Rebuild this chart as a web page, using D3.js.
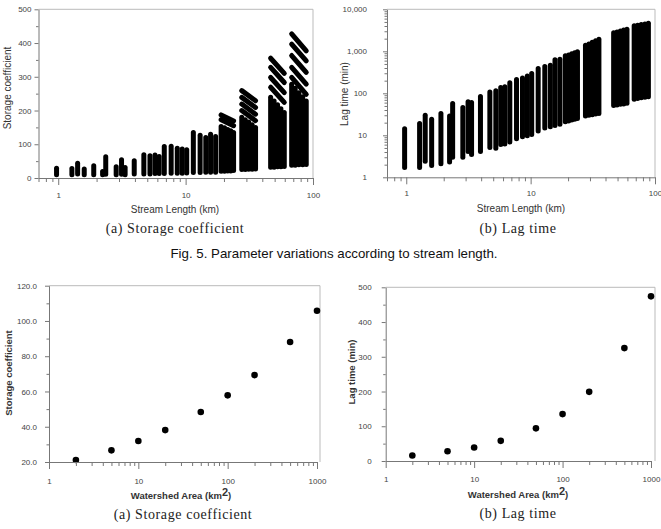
<!DOCTYPE html>
<html lang="en">
<head>
  <meta charset="UTF-8">
  <title>Parameter variations</title>
  <script src="https://d3js.org/d3.v7.min.js"></script>
  <style>
    body { margin: 0; background: #fff; }
    text { font-family: 'Liberation Sans', Arial, sans-serif; fill: #333; }
    .tick text { font-size: 8px; fill: #444; }
    .domain, .tick line { stroke: #777; }
    .frame { stroke: #bbb; fill: none; }
    .sub { font-family: 'Liberation Serif', serif; font-size: 14px; fill: #222; letter-spacing: 0.6px; }
    .ttl { font-size: 10px; }
    .bold { font-weight: bold; font-size: 9.5px; fill: #333; }
  </style>
</head>
<body>
  <svg width="661" height="529"></svg>

  <script>
    const svg = d3.select("svg");

    // Fig. 5 : one column of runs per stream length (dot centres, lowest / highest)
    const streamLength = [0.97, 1.28, 1.42, 1.60, 1.90, 2.23, 2.36, 2.85, 3.14, 3.35, 3.95, 4.70, 5.25,
                          5.75, 6.20, 6.80, 7.70, 8.60, 9.40, 10.2, 11.5, 13.0, 14.4, 15.7, 17.2];
    const storageMin = [10, 10, 12, 10, 10, 10, 11, 10, 11, 10, 12, 12, 12, 13, 13, 13, 14, 14, 14, 15, 16, 16, 17, 17, 17];
    const storageMax = [29, 28, 44, 27, 36, 19, 63, 33, 54, 31, 51, 69, 66, 68, 64, 93, 94, 88, 86, 84, 135, 127, 120, 130, 123];
    const lagMin = [1.7, 1.7, 2.4, 1.9, 2.1, 2.3, 3.0, 3.0, 4.1, 3.5, 4.1, 5.1, 4.9, 6.0, 6.2, 6.9, 8.3, 9.2, 9.8, 10.4, 12.7, 15, 16, 17, 18.4];
    const lagMax = [14.4, 19, 30, 24, 33, 29, 57, 46, 63, 60, 84, 108, 115, 137, 144, 178, 213, 230, 257, 296, 387, 435, 465, 626, 648];

    // the four long streams come as groups of close lengths
    const blockLength = [
      [19.0, 20.2, 21.4, 22.6, 23.8],
      [27.6, 29.4, 31.3, 33.3, 35.4],
      [46.5, 49.5, 52.7, 56.0, 59.5],
      [68.0, 72.5, 77.5, 83.0, 88.5]
    ];
    const storageBlockMin = [[20, 20, 21, 21, 22], [25, 25, 26, 26, 27], [32, 32, 33, 33, 34], [38, 38, 39, 39, 40]];
    const storageBlockTop = [[153, 149, 144, 140, 135], [180, 173, 166, 158, 150], [239, 228, 217, 205, 194], [278, 266, 253, 241, 228]];
    const storageRows = [[187, 173], [259, 239, 219, 200], [355, 328, 298, 269], [427, 397, 363, 328, 298]];
    const storageRowDrop = [18, 30, 45, 50];
    const lagBlockMin = [[21, 22, 23, 24, 25], [29, 30, 31, 32, 33], [51, 53, 55, 56, 58], [72, 75, 78, 80, 83]];
    const lagBlockMax = [[780, 820, 870, 920, 975], [1390, 1500, 1640, 1780, 1930], [2780, 2900, 3050, 3200, 3350], [4040, 4180, 4340, 4490, 4650]];

    // Fig. 6 : watershed area
    const area = [2, 5, 10, 20, 50, 100, 200, 500, 1000];
    const storageByArea = [21.1, 26.6, 31.9, 38.1, 48.4, 57.8, 69.3, 88.1, 105.8];
    const lagByArea = [16, 28, 39, 58, 94, 135, 199, 325, 474];

    const isPow10 = d => Math.abs(Math.log10(d) - Math.round(Math.log10(d))) < 1e-6;

    function frame(x, y, extra) {
      const [x0, x1] = x.range(), [y0, y1] = y.range();
      svg.append("path").attr("class", "frame")
        .attr("d", `M${x0},${y1}H${x1 + extra}V${y0}`);
    }

    function logXAxis(x, y0, pad) {
      const ax = svg.append("g").attr("transform", `translate(0,${y0})`)
        .call(d3.axisBottom(x).tickValues(x.ticks()).tickSize(4).tickSizeOuter(0).tickPadding(pad)
          .tickFormat(d => isPow10(d) ? d3.format("d")(d) : ""));
      ax.selectAll(".tick line").filter(d => isPow10(d)).attr("y2", 7);
      ax.selectAll(".tick").filter(d => !isPow10(d)).select("text").remove();
    }

    function yAxis(y, x0, values, isMajor, fmt, pad) {
      const ax = svg.append("g").attr("transform", `translate(${x0},0)`)
        .call(d3.axisLeft(y).tickValues(values).tickSize(4).tickSizeOuter(0).tickPadding(pad)
          .tickFormat(d => isMajor(d) ? fmt(d) : ""));
      ax.selectAll(".tick line").filter(d => !isMajor(d)).attr("x2", -2.5);
    }

    function columns(g, x, y, xs, lo, hi, r) {
      g.selectAll(null).data(d3.range(xs.length)).join("rect")
        .attr("x", i => x(xs[i]) - r)
        .attr("width", 2 * r)
        .attr("y", i => y(hi[i]) - r)
        .attr("height", i => y(lo[i]) - y(hi[i]) + 2 * r)
        .attr("rx", r)
        .attr("fill", "#000");
    }

    function title(txt, x, y, cls, rot) {
      const t = svg.append("text").attr("class", cls).attr("text-anchor", "middle").attr("dy", "0.35em").text(txt);
      if (rot) t.attr("transform", `translate(${x},${y}) rotate(-90)`);
      else t.attr("x", x).attr("y", y);
      return t;
    }

    // ---------- (a) storage coefficient vs stream length ----------
    const xA = d3.scaleLog().domain([0.7, 100]).range([38.5, 313]);
    const yA = d3.scaleLinear().domain([0, 500]).range([178, 9.3]);
    frame(xA, yA, 0);
    const gA = svg.append("g");
    columns(gA, xA, yA, streamLength, storageMin, storageMax, 2.5);
    blockLength.forEach((bl, b) => {
      columns(gA, xA, yA, bl, storageBlockMin[b], storageBlockTop[b], 2.5);
      gA.selectAll(null).data(storageRows[b]).join("line")
        .attr("x1", xA(bl[0])).attr("x2", xA(bl[bl.length - 1]))
        .attr("y1", v => yA(v)).attr("y2", v => yA(v - storageRowDrop[b]))
        .attr("stroke", "#000").attr("stroke-width", 5).attr("stroke-linecap", "round");
    });
    logXAxis(xA, 178, 10);
    yAxis(yA, 38.5, d3.range(0, 501, 50), d => d % 100 === 0, d3.format("d"), 3);
    title("Storage coefficient", 7, 88, "ttl", true);
    title("Stream Length (km)", 175, 209, "ttl");
    title("(a) Storage coefficient", 175, 228, "sub");

    // ---------- (b) lag time vs stream length ----------
    const xB = d3.scaleLog().domain([0.7, 100]).range([387, 655]);
    const yB = d3.scaleLog().domain([1, 10000]).range([177.3, 9.3]);
    frame(xB, yB, 0);
    const gB = svg.append("g");
    columns(gB, xB, yB, streamLength, lagMin, lagMax, 2.5);
    blockLength.forEach((bl, b) => columns(gB, xB, yB, bl, lagBlockMin[b], lagBlockMax[b], 2.5));
    logXAxis(xB, 177.3, 9);
    yAxis(yB, 387, yB.ticks(), isPow10, d3.format(","), 16);
    title("Lag time (min)", 344, 94, "ttl", true);
    title("Stream Length (km)", 521, 208, "ttl");
    title("(b) Lag time", 518, 228, "sub");

    svg.append("text").attr("x", 334).attr("y", 253).attr("dy", "0.35em").attr("text-anchor", "middle")
      .attr("textLength", 327).attr("lengthAdjust", "spacingAndGlyphs")
      .style("font-size", "13px").style("fill", "#111")
      .text("Fig. 5. Parameter variations according to stream length.");

    // ---------- (a) storage coefficient vs watershed area ----------
    const xC = d3.scaleLog().domain([1, 1000]).range([49, 317]);
    const yC = d3.scaleLinear().domain([20, 120]).range([462, 285.7]);
    frame(xC, yC, 3);
    svg.append("g").selectAll("circle").data(area).join("circle")
      .attr("cx", (d, i) => xC(area[i])).attr("cy", (d, i) => yC(storageByArea[i]))
      .attr("r", 3.3).attr("fill", "#000");
    logXAxis(xC, 462, 12);
    yAxis(yC, 49, d3.range(20, 121, 10), d => d % 20 === 0, d3.format(".1f"), 8);
    title("Storage coefficient", 9, 373, "bold", true);
    const tC = title("Watershed Area (km", 181, 496, "bold");
    tC.append("tspan").attr("dy", "-0.3em").style("font-size", "11px").text("2");
    tC.append("tspan").attr("dy", "0.3em").text(")");
    title("(a) Storage coefficient", 183, 514, "sub");

    // ---------- (b) lag time vs watershed area ----------
    const xD = d3.scaleLog().domain([1, 1000]).range([385.7, 651]);
    const yD = d3.scaleLinear().domain([0, 500]).range([461, 287.3]);
    frame(xD, yD, 4);
    svg.append("g").selectAll("circle").data(area).join("circle")
      .attr("cx", (d, i) => xD(area[i])).attr("cy", (d, i) => yD(lagByArea[i]))
      .attr("r", 3.3).attr("fill", "#000");
    logXAxis(xD, 461, 11);
    yAxis(yD, 385.7, d3.range(0, 501, 50), d => d % 100 === 0, d3.format("d"), 10);
    title("Lag time (min)", 352, 372, "bold", true);
    const tD = title("Watershed Area (km", 518, 495, "bold");
    tD.append("tspan").attr("dy", "-0.3em").style("font-size", "11px").text("2");
    tD.append("tspan").attr("dy", "0.3em").text(")");
    title("(b) Lag time", 518, 513, "sub");
  </script>
</body>
</html>
